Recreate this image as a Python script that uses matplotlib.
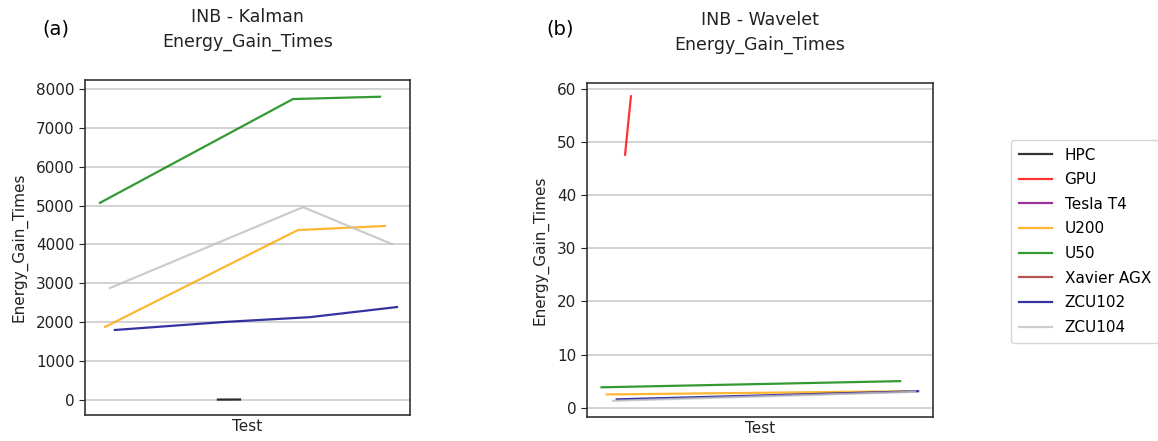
import matplotlib
matplotlib.use("Agg")
import matplotlib.pyplot as plt

series_names = ["HPC", "GPU", "Tesla T4", "U200", "U50", "Xavier AGX", "ZCU102", "ZCU104"]
series_colors = ["black", "red", "purple", "orange", "green", "brown", "darkblue", "silver"]

# Panel (a): INB - Kalman  (x positions on a 0-100 test axis)
kal_x = {
    "HPC": [40.9, 47.7],
    "U50": [4.6, 64.0, 90.8],
    "ZCU104": [7.7, 67.1, 94.5],
    "U200": [6.2, 65.5, 92.3],
    "ZCU102": [9.2, 43.6, 69.2, 96.0],
}
kal_y = {
    "HPC": [10, 12],
    "U50": [5070, 7740, 7800],
    "ZCU104": [2880, 4960, 4010],
    "U200": [1880, 4370, 4475],
    "ZCU102": [1800, 2010, 2130, 2390],
}

# Panel (b): INB - Wavelet
wav_x = {
    "GPU": [11.0, 12.7],
    "U50": [4.2, 90.5],
    "U200": [5.7, 92.4],
    "ZCU104": [7.5, 94.8],
    "ZCU102": [8.6, 95.7],
}
wav_y = {
    "GPU": [47.6, 58.6],
    "U50": [3.84, 5.0],
    "U200": [2.5, 3.1],
    "ZCU104": [1.3, 3.0],
    "ZCU102": [1.57, 3.1],
}

fig = plt.figure(figsize=(11.58, 4.41), dpi=100)
axa = fig.add_axes([0.0734, 0.059, 0.2806, 0.7596])
axb = fig.add_axes([0.5069, 0.0544, 0.2988, 0.7574])

color_of = dict(zip(series_names, series_colors))
for ax, xs, ys in [(axa, kal_x, kal_y), (axb, wav_x, wav_y)]:
    for name in series_names:
        if name in xs:
            ax.plot(xs[name], ys[name], color=color_of[name], alpha=0.8, lw=1.6)
    ax.set_xlim(0, 100)
    ax.set_xticks([])
    ax.set_xlabel("Test", fontsize=11, labelpad=3, color="#222222")
    ax.set_ylabel("Energy_Gain_Times", fontsize=11, color="#222222", labelpad=6)
    ax.yaxis.grid(True, color="#d3d3d3", lw=1.4)
    ax.set_axisbelow(True)
    ax.tick_params(axis="y", labelsize=11, colors="#222222", length=4)
    for s in ax.spines.values():
        s.set_color("#333333")
        s.set_linewidth(1.2)

axa.set_ylim(-386, 8230)
axa.set_yticks(range(0, 8001, 1000))
axb.set_ylim(-1.75, 61.1)
axb.set_yticks(range(0, 61, 10))

axa.set_title("INB - Kalman\nEnergy_Gain_Times", fontsize=12.5, pad=24, color="#222222", linespacing=1.45)
axb.set_title("INB - Wavelet\nEnergy_Gain_Times", fontsize=12.5, pad=24, color="#222222", linespacing=1.45)

fig.text(0.048, 0.935, "(a)", fontsize=14, ha="center", va="center")
fig.text(0.484, 0.935, "(b)", fontsize=14, ha="center", va="center")

leg_handles = [plt.Line2D([], [], color=c, alpha=0.8, lw=1.6) for c in series_colors]
fig.legend(leg_handles, series_names, loc="upper left", bbox_to_anchor=(0.8665, 0.70),
           fontsize=11, frameon=True, handlelength=2.2, labelspacing=0.63,
           borderpad=0.5, edgecolor="#cccccc", fancybox=True)

fig.savefig("out.png", dpi=100)
